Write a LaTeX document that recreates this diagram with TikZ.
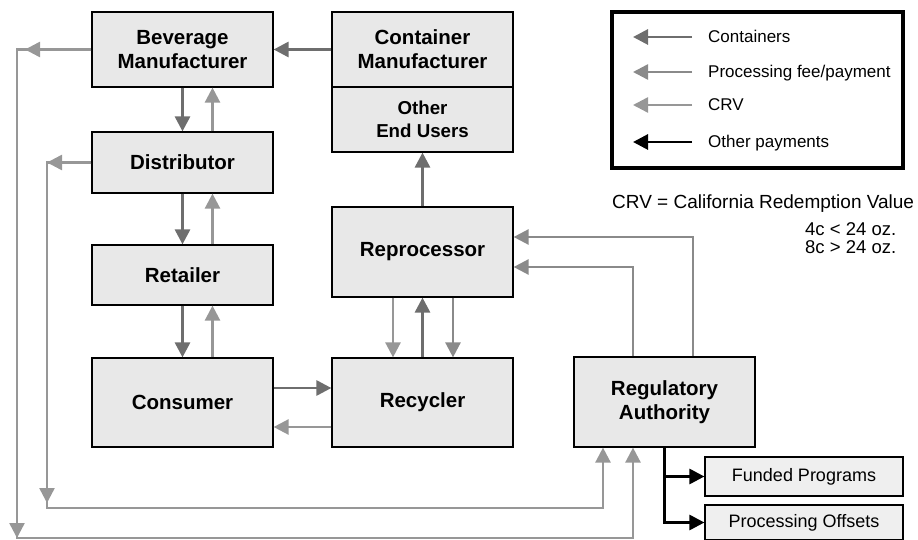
\documentclass[tikz,border=0pt]{standalone}
\usepackage{fontspec}
\setmainfont{Liberation Sans}
\usetikzlibrary{arrows.meta}

\definecolor{boxgray}{HTML}{E8E8E8}
\definecolor{contgray}{HTML}{6E6E6E}
\definecolor{feegray}{HTML}{8A8A8A}
\definecolor{crvgray}{HTML}{979797}

\newcommand{\blockfont}{\fontsize{20.5}{24}\selectfont\bfseries}
\newcommand{\notefont}{\fontsize{18.5}{18}\selectfont}

\tikzset{
  block/.style={draw, line width=1.2pt, fill=boxgray, minimum width=181pt,
    inner sep=0pt, align=center, font=\blockfont},
  smallblock/.style={draw, line width=1.2pt, fill=boxgray!70, minimum width=198pt,
    inner sep=0pt, font=\fontsize{18}{21}\selectfont},
  tip/.style={-{Triangle[length=15pt,width=15pt]}},
  cont/.style={tip, contgray, line width=2.9pt},
  fee/.style={tip, feegray, line width=2.5pt},
  crv/.style={tip, crvgray, line width=2.5pt},
  pay/.style={tip, black, line width=2.9pt},
}

\begin{document}
\begin{tikzpicture}[x=1pt, y=-1pt]
  \useasboundingbox (0,0) rectangle (918,540);

  % supply chain
  \node[block, minimum height=75pt] (bev) at (182.5,49.5) {Beverage\\Manufacturer};
  \node[block, minimum height=61pt] (dist) at (182.5,162.5) {Distributor};
  \node[block, minimum height=60pt] (ret) at (182.5,275) {Retailer};
  \node[block, minimum height=89pt] (cons) at (182.5,402.5) {Consumer};
  \node[block, minimum height=75pt] (cman) at (422.5,49.5) {Container\\Manufacturer};
  \node[block, minimum height=65pt, font=\fontsize{18.7}{23}\selectfont\bfseries] (other) at (422.5,119.5) {Other\\End Users};
  \node[block, minimum height=90pt] (repro) at (422.5,252) {Reprocessor};
  \node[block, minimum height=89pt] (recy) at (422.5,402.5) {Recycler};
  \node[block, minimum height=90pt] (reg) at (664.5,402) {Regulatory\\Authority};
  \node[smallblock, minimum height=39pt] (funded) at (804,476.5) {Funded Programs};
  \node[smallblock, minimum height=35pt] (offsets) at (804,522.5) {Processing Offsets};

  % containers down, CRV back up
  \draw[cont] (cman) -- (bev);
  \draw[cont] (bev) -- (dist);
  \draw[crv] ([xshift=30pt]dist.north) -- ([xshift=30pt]bev.south);
  \draw[cont] (dist) -- (ret);
  \draw[crv] ([xshift=30pt]ret.north) -- ([xshift=30pt]dist.south);
  \draw[cont] (ret) -- (cons);
  \draw[crv] ([xshift=30pt]cons.north) -- ([xshift=30pt]ret.south);
  \draw[cont] ([yshift=14.5pt]cons.east) -- ([yshift=14.5pt]recy.west);
  \draw[crv] ([yshift=-24.5pt]recy.west) -- ([yshift=-24.5pt]cons.east);
  \draw[crv] ([xshift=-29.5pt]repro.south) -- ([xshift=-29.5pt]recy.north);
  \draw[cont] (recy) -- (repro);
  \draw[fee] ([xshift=30.5pt]repro.south) -- ([xshift=30.5pt]recy.north);
  \draw[cont] (repro) -- (other);

  % payments from the authority
  \draw[fee] ([xshift=-31.5pt]reg.north) |- ([yshift=-15pt]repro.east);
  \draw[fee] ([xshift=28.5pt]reg.north) |- ([yshift=15pt]repro.east);
  \draw[pay] (reg.south) |- (funded.west);
  \draw[pay] (reg.south) |- (offsets.west);

  % CRV loops round to the authority
  \coordinate (outer) at (17,538);
  \coordinate (inner) at (47,508);
  \draw[crv] (bev.west) -| (outer) -| ([xshift=-31.5pt]reg.south);
  \draw[crv] (dist.west) -| (inner) -| ([xshift=-61.5pt]reg.south);
  \draw[crv] (bev.west) -- ([xshift=8pt]bev.west -| outer);
  \draw[crv] (bev.west -| outer) -- (outer);
  \draw[crv] (dist.west) -- (dist.west -| inner);
  \draw[crv] (dist.west -| inner) -- ([yshift=5pt]inner);

  % legend
  \node[draw, line width=3.3pt, minimum width=291pt, minimum height=156pt, inner sep=0pt] (legend) at (757.5,90) {};
  \foreach \y/\sty/\txt in {37/cont/Containers, 72/fee/{Processing fee/payment}, 105/crv/CRV, 142/pay/Other payments} {
    \node[anchor=base west, inner sep=0pt, font=\fontsize{17}{20}\selectfont] (key\y) at (708,\y+6) {\txt};
    \draw[\sty] (692,\y) -- (633,\y);
  }

  \node[anchor=base west, inner sep=0pt, font=\fontsize{19}{22}\selectfont] (crvnote) at (612,208) {CRV = California Redemption Value};
  \node[anchor=base west, inner sep=0pt, align=left, font=\notefont] (sizes) at (805,253) {4c < 24 oz.\\8c > 24 oz.};
\end{tikzpicture}
\end{document}
